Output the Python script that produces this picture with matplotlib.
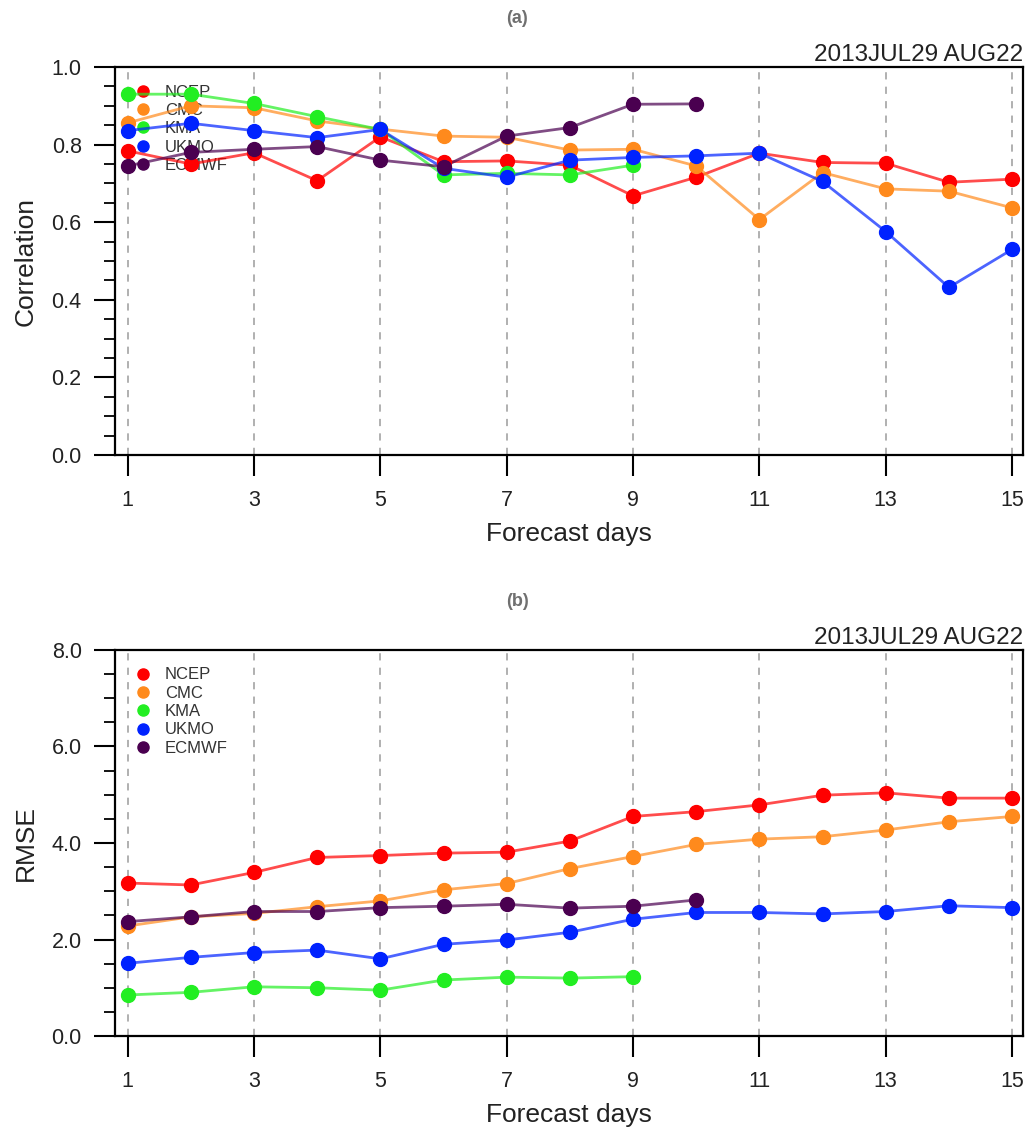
import matplotlib
matplotlib.use('Agg')
import matplotlib.pyplot as plt
from matplotlib.lines import Line2D
import numpy as np

plt.rcParams['font.family'] = ['Liberation Sans', 'DejaVu Sans']

# forecast days and models
days = np.arange(1, 16)
models = ['NCEP', 'CMC', 'KMA', 'UKMO', 'ECMWF']
colors = ['#ff0000', '#ff8a1c', '#22ee22', '#0022ff', '#4a0050']

# (a) correlation
corr_ncep = [0.784, 0.750, 0.779, 0.707, 0.820, 0.756, 0.758, 0.747, 0.668, 0.716,
             0.778, 0.754, 0.752, 0.703, 0.711]
corr_cmc = [0.856, 0.900, 0.895, 0.861, 0.840, 0.822, 0.819, 0.786, 0.788, 0.745,
            0.607, 0.728, 0.686, 0.680, 0.637]
corr_kma = [0.930, 0.930, 0.906, 0.872, 0.839, 0.722, 0.726, 0.722, 0.747]
corr_ukmo = [0.836, 0.855, 0.836, 0.818, 0.839, 0.739, 0.716, 0.760, 0.767, 0.771,
             0.778, 0.705, 0.576, 0.432, 0.530]
corr_ecmwf = [0.745, 0.780, 0.788, 0.795, 0.760, 0.743, 0.822, 0.844, 0.904, 0.905]

# (b) RMSE
rmse_ncep = [3.17, 3.13, 3.39, 3.70, 3.74, 3.79, 3.81, 4.04, 4.55, 4.65,
             4.79, 4.99, 5.04, 4.93, 4.93]
rmse_cmc = [2.28, 2.47, 2.54, 2.68, 2.80, 3.03, 3.16, 3.47, 3.72, 3.97,
            4.08, 4.13, 4.27, 4.44, 4.55]
rmse_kma = [0.85, 0.905, 1.02, 1.00, 0.95, 1.16, 1.22, 1.20, 1.23]
rmse_ukmo = [1.507, 1.63, 1.73, 1.78, 1.60, 1.90, 1.99, 2.15, 2.42, 2.56,
             2.56, 2.53, 2.58, 2.70, 2.66]
rmse_ecmwf = [2.37, 2.47, 2.58, 2.58, 2.66, 2.69, 2.73, 2.65, 2.69, 2.82]

corr = [corr_ncep, corr_cmc, corr_kma, corr_ukmo, corr_ecmwf]
rmse = [rmse_ncep, rmse_cmc, rmse_kma, rmse_ukmo, rmse_ecmwf]

fig = plt.figure(figsize=(10.34, 11.32), dpi=100)
ax1 = fig.add_axes([0.1112, 0.598, 0.878, 0.3428])
ax2 = fig.add_axes([0.1112, 0.0848, 0.878, 0.341])


def draw(ax, series, ylim, major, minor, ylabel, tag):
    for xv in range(1, 16, 2):
        ax.axvline(xv, color='#aaaaaa', lw=1.3, ls=(0, (4, 4)), zorder=1)
    for vals, c in zip(series, colors):
        x = days[:len(vals)]
        ax.plot(x, vals, color=c, lw=2, alpha=0.7, zorder=3)
        ax.plot(x, vals, 'o', color=c, ms=10, zorder=4, mec=c)
    ax.set_xlim(0.8, 15.17)
    ax.set_ylim(*ylim)
    ax.set_xticks(range(1, 16, 2))
    ax.set_yticks(np.arange(ylim[0], ylim[1] + 1e-9, major))
    ax.set_yticks(np.arange(ylim[0], ylim[1] + 1e-9, minor), minor=True)
    ax.yaxis.set_major_formatter(matplotlib.ticker.FormatStrFormatter('%.1f'))
    ax.tick_params(which='major', direction='out', length=15, width=1.5,
                   labelsize=15.5, pad=9, labelcolor='#222222')
    ax.tick_params(axis='x', which='major', pad=10)
    ax.tick_params(which='minor', direction='out', length=8, width=1.3)
    for s in ax.spines.values():
        s.set_linewidth(1.6)
    ax.set_xlabel('Forecast days', fontsize=19, labelpad=8, color='#222222')
    ax.set_ylabel(ylabel, fontsize=19, labelpad=10, color='#222222')
    ax.set_title('2013JUL29 AUG22', loc='right', fontsize=17.5, pad=4,
                 color='#222222')
    ax.text(0.443, 1.125, tag, transform=ax.transAxes, ha='center', va='center',
            fontsize=13, fontweight='bold', color='#707070')
    handles = [Line2D([], [], ls='none', marker='o', color=c, ms=8) for c in colors]
    leg = ax.legend(handles, models, loc='upper left', frameon=False,
                    fontsize=12, handletextpad=0.3, labelspacing=0.2,
                    borderaxespad=0.3, bbox_to_anchor=(0.0, 0.985))
    for t in leg.get_texts():
        t.set_color('#333333')
    leg.set_zorder(2)


draw(ax1, corr, (0.0, 1.0), 0.2, 0.05, 'Correlation', '(a)')
draw(ax2, rmse, (0.0, 8.0), 2.0, 0.5, 'RMSE', '(b)')

fig.savefig('out.png', dpi=100)
